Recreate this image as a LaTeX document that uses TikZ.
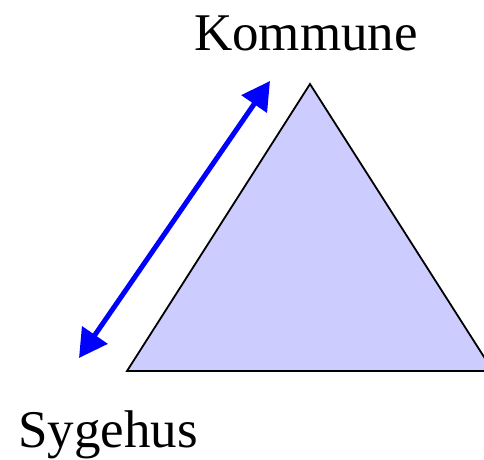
\documentclass[tikz,border=0pt]{standalone}
\usepackage{fontspec}
\setmainfont{Liberation Serif}
\usetikzlibrary{arrows.meta}

\begin{document}
\begin{tikzpicture}[
    x=1pt, y=-1pt,
    place/.style={font=\fontsize{53}{60}\selectfont, inner sep=0pt, anchor=base},
    area/.style={draw=black, line width=1.8pt, fill=blue!20, line join=miter},
    link/.style={{Triangle[length=28pt,width=30pt]}-{Triangle[length=28pt,width=30pt]}, draw=blue, line width=5pt}
]
\useasboundingbox (0,0) rectangle (484,459);

% hjørner
\coordinate (top) at (310,84);
\coordinate (left) at (127,371);
\coordinate (right) at (493,371);

\filldraw[area] (left) -- (top) -- (right) -- cycle;

% steder
\node[place] (kommune) at (306,50) {Kommune};
\node[place] (sygehus) at (108,447) {Sygehus};

% pil
\coordinate (a) at (79,358);
\coordinate (b) at (270,81);
\draw[link] (a) -- (b);

\end{tikzpicture}
\end{document}
